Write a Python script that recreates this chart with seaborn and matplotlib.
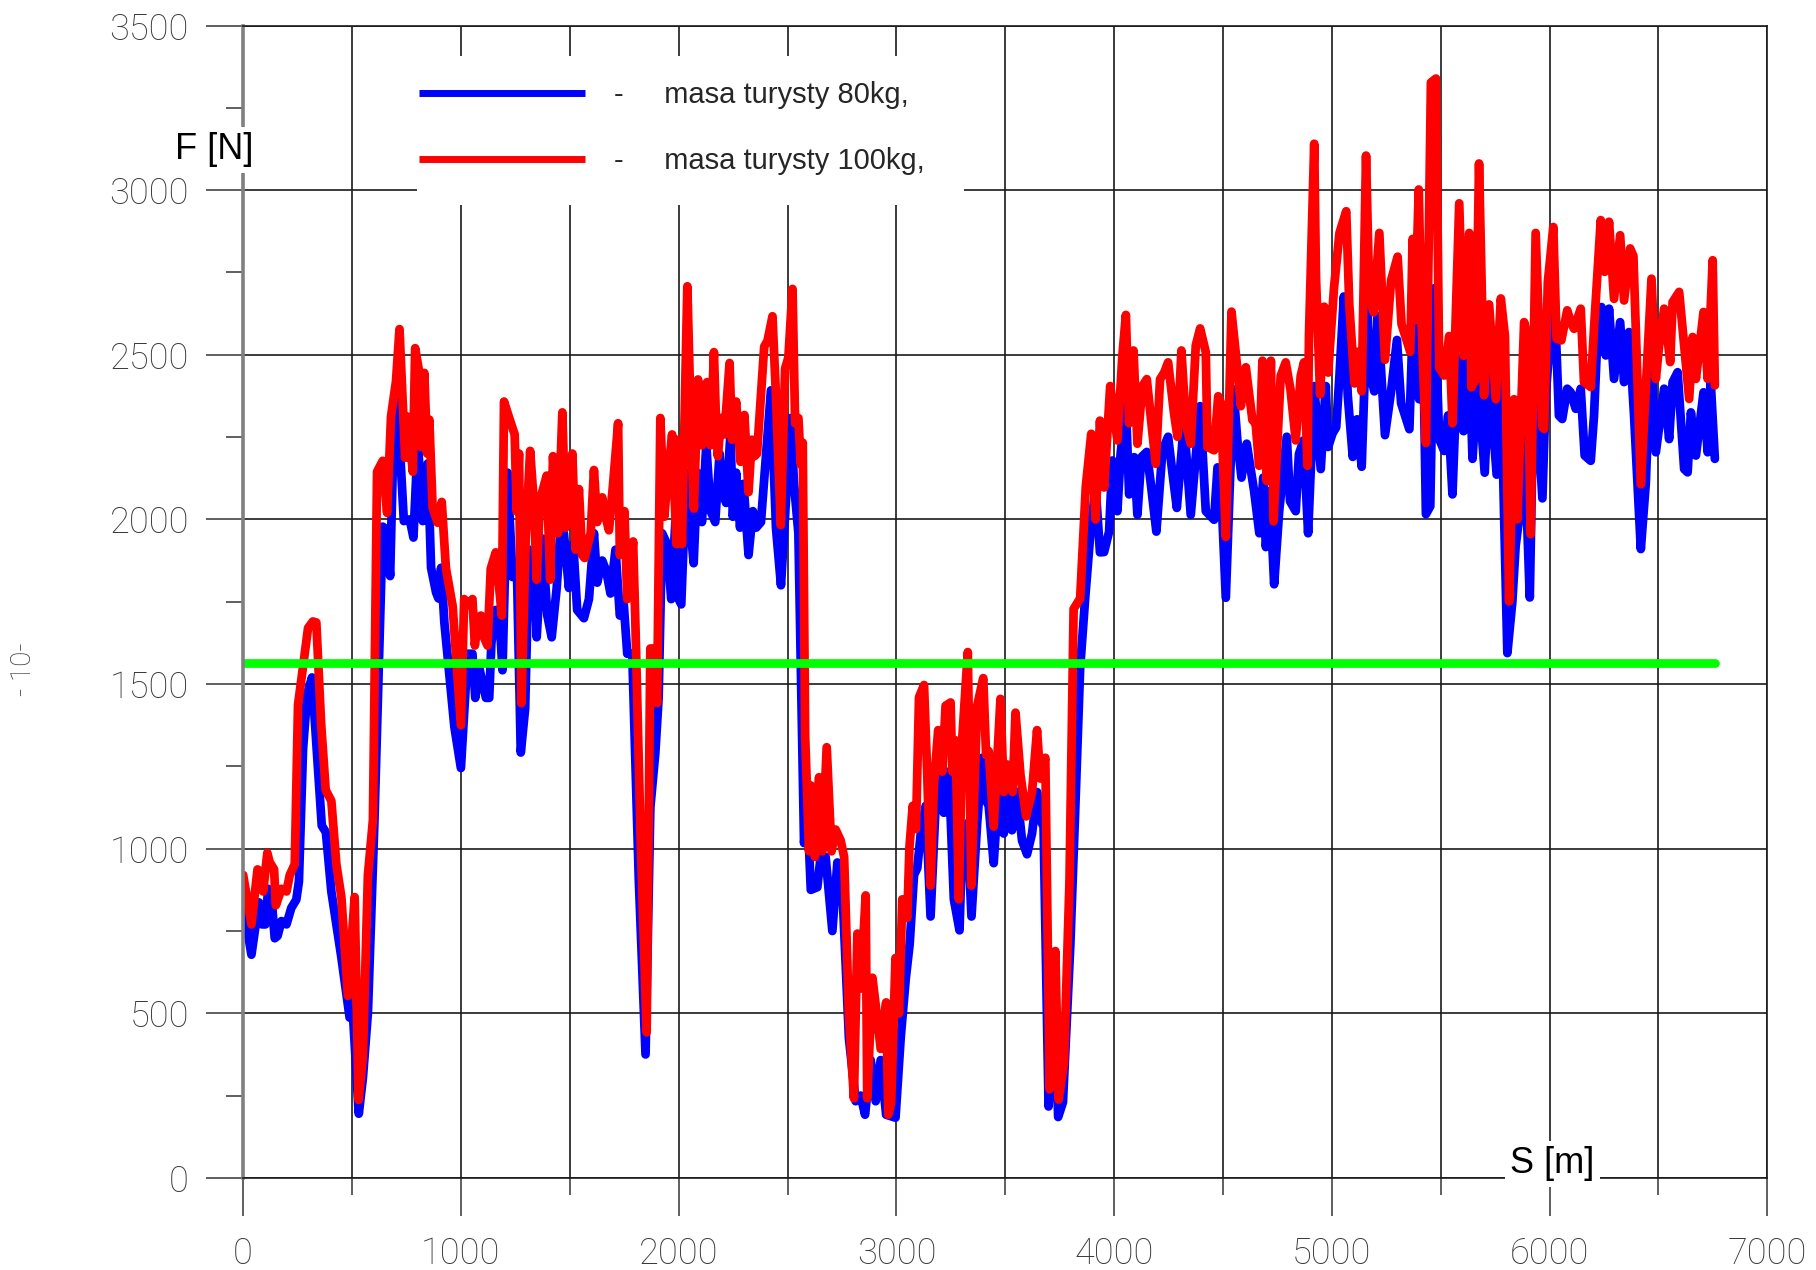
import matplotlib
matplotlib.use("Agg")
import matplotlib.pyplot as plt
import seaborn as sns
import pandas as pd
from matplotlib.ticker import MultipleLocator
from matplotlib.patches import Rectangle

# ---------------- data ----------------
s_80 = [0, 38, 72, 87, 102, 115, 128, 145, 158, 176, 199, 221, 244, 256, 275, 294, 316, 361, 380, 405,
        451, 489, 505, 531, 550, 573, 603, 641, 656, 675, 695, 710, 738, 765, 782, 802, 825, 848, 863, 886,
        897, 909, 924, 970, 1000,
        1031, 1053, 1066, 1084, 1115, 1130, 1140, 1160, 1175, 1191, 1214, 1237, 1257, 1275, 1295, 1313, 1336, 1348, 1374, 1397,
        1417, 1440, 1458, 1473, 1496, 1516, 1534, 1565, 1588, 1611, 1626, 1649, 1668, 1687, 1710, 1730, 1748, 1764, 1787, 1817,
        1848, 1870, 1893, 1908, 1924, 1947, 1966, 1985, 2000, 2012,
        2035, 2050, 2069, 2086, 2107, 2127, 2147, 2168, 2188, 2195, 2218, 2238, 2249, 2264, 2282, 2298, 2321, 2341, 2356, 2378,
        2424, 2447, 2470, 2492, 2515, 2530, 2550, 2576, 2591, 2607, 2637, 2652, 2675, 2706, 2729, 2752, 2782, 2813, 2836, 2856,
        2882, 2905, 2928, 2953, 2996,
        3020, 3043, 3061, 3081, 3096, 3112, 3135, 3157, 3180, 3203, 3218, 3241, 3264, 3290, 3302, 3325, 3345, 3371, 3394, 3409,
        3424, 3447, 3470, 3493, 3508, 3531, 3554, 3577, 3600, 3623, 3646, 3661, 3676, 3699, 3728, 3743, 3765, 3799, 3822, 3844,
        3867,
        3890, 3915, 3935, 3954, 3977, 3992, 4015, 4030, 4054, 4069, 4092, 4107, 4125, 4150, 4170, 4194, 4222, 4248, 4268, 4288,
        4321, 4352, 4375, 4395, 4421, 4459, 4475, 4490, 4513, 4532, 4548, 4566, 4585, 4609, 4643, 4667, 4685, 4697, 4715, 4735,
        4758, 4793, 4808, 4834, 4849, 4870, 4891, 4919, 4949, 4972, 4983, 5003,
        5020, 5035, 5055, 5073, 5096, 5116, 5137, 5162, 5178, 5195, 5211, 5244, 5272, 5299, 5318, 5356, 5368, 5386, 5401, 5417,
        5432, 5452, 5470, 5493, 5516, 5534, 5554, 5577, 5605, 5625, 5646, 5669, 5702, 5722, 5757, 5776, 5806, 5829, 5844, 5867,
        5883, 5909, 5929, 5967, 5982, 6012, 6028,
        6043, 6058, 6081, 6097, 6120, 6143, 6161, 6189, 6204, 6220, 6238, 6258, 6273, 6296, 6324, 6342, 6365, 6388, 6419, 6442,
        6465, 6488, 6526, 6549, 6565, 6588, 6618, 6634, 6649, 6672, 6707, 6726, 6740, 6759]
f_80 = [828, 678, 837, 770, 770, 878, 870, 728, 735, 780, 770, 820, 845, 900, 1303, 1470, 1520, 1070, 1050, 870,
        670, 487, 487, 195, 305, 503, 1087, 1978, 1970, 1828, 2370, 2337, 1995, 2000, 1945, 2237, 1995, 2170, 1853, 1778,
        1760, 1853, 1687, 1370, 1245,
        1592, 1592, 1458, 1550, 1458, 1458, 1625, 1725, 1725, 1542, 2142, 1825, 1858, 1292, 1425, 1908, 1892, 1642, 1942, 1708,
        1642, 1792, 1975, 1958, 1792, 1925, 1725, 1700, 1758, 1958, 1808, 1875, 1842, 1775, 1908, 1708, 1742, 1592, 1592, 908,
        375, 1125, 1292, 1458, 1958, 1925, 1758, 1992, 1758, 1742,
        2142, 2008, 1867, 2142, 1992, 2225, 2025, 1992, 2200, 2108, 2050, 2258, 2008, 2142, 1975, 2108, 1892, 2025, 1975, 1992,
        2392, 1975, 1800, 2050, 2308, 2108, 1958, 1017, 1125, 875, 883, 975, 975, 750, 958, 875, 425, 233, 250, 192,
        358, 233, 358, 192, 183,
        427, 605, 710, 920, 941, 1046, 1130, 794, 1130, 1234, 1109, 1234, 846, 752, 1025, 1077, 794, 1077, 1276, 1151,
        1130, 956, 1193, 1046, 1172, 1056, 1172, 1025, 983, 1046, 1172, 1088, 1067, 217, 540, 185, 230, 710, 1130, 1549,
        1760,
        1950, 2100, 1900, 1901, 1963, 2179, 2025, 2200, 2344, 2076, 2189, 2014, 2189, 2205, 2100, 1963, 2210, 2251, 2140, 2035,
        2292, 2014, 2189, 2344, 2025, 1999, 2158, 2117, 1762, 2117, 2395, 2240, 2127, 2230, 2086, 1958, 2127, 1916, 2086, 1803,
        2025, 2251, 2055, 2025, 2199, 2240, 1958, 2405, 2153, 2405, 2220, 2261,
        2280, 2437, 2677, 2377, 2190, 2304, 2160, 2653, 2437, 2389, 2617, 2256, 2389, 2545, 2353, 2274, 2520, 2774, 2365, 2629,
        2016, 2040, 2702, 2244, 2208, 2316, 2076, 2485, 2268, 2629, 2184, 2437, 2142, 2437, 2136, 2437, 1594, 1751, 1919, 2040,
        2256, 1763, 2485, 2064, 2377, 2630, 2579,
        2315, 2305, 2397, 2386, 2336, 2397, 2194, 2178, 2315, 2560, 2645, 2498, 2640, 2427, 2599, 2417, 2569, 2315, 1910, 2112,
        2518, 2204, 2397, 2244, 2417, 2447, 2153, 2143, 2325, 2194, 2386, 2204, 2417, 2184]

s_100 = [0, 38, 66, 80, 92, 111, 121, 142, 150, 176, 199, 214, 237, 252, 275, 298, 320, 336, 358, 379,
         405, 428, 451, 481, 512, 530, 550, 573, 596, 615, 641, 661, 679, 702, 718, 744, 756, 779, 790, 809,
         818, 832, 845, 855, 870, 893, 912, 931, 962, 1000,
         1015, 1030, 1053, 1064, 1080, 1092, 1107, 1122, 1137, 1160, 1188, 1198, 1222, 1247, 1256, 1267, 1278, 1298, 1318, 1336,
         1348, 1363, 1394, 1410, 1423, 1446, 1466, 1481, 1496, 1512, 1527, 1542, 1557, 1568, 1596, 1611, 1626, 1649, 1664, 1680,
         1699, 1722, 1730, 1751, 1764, 1791, 1802, 1825, 1853, 1870, 1885, 1901, 1916, 1934, 1947, 1970, 1990,
         2000, 2015, 2040, 2058, 2070, 2089, 2107, 2131, 2147, 2162, 2172, 2180, 2195, 2210, 2234, 2245, 2264, 2284, 2302, 2321,
         2336, 2348, 2360, 2393, 2408, 2431, 2447, 2469, 2489, 2504, 2523, 2535, 2550, 2561, 2570, 2581, 2599, 2607, 2626, 2645,
         2660, 2680, 2702, 2721, 2744, 2760, 2782, 2805, 2821, 2836, 2859, 2866, 2890, 2905, 2928, 2953, 2963, 2976, 2996,
         3012, 3027, 3050, 3060, 3075, 3090, 3104, 3127, 3142, 3157, 3172, 3192, 3211, 3226, 3249, 3257, 3272, 3287, 3302, 3328,
         3344, 3371, 3399, 3412, 3424, 3447, 3478, 3493, 3508, 3534, 3547, 3570, 3596, 3623, 3646, 3661, 3684, 3704, 3730, 3745,
         3770, 3795, 3814, 3844, 3870,
         3895, 3915, 3935, 3954, 3982, 4015, 4038, 4054, 4069, 4089, 4107, 4130, 4150, 4191, 4211, 4230, 4248, 4275, 4291, 4309,
         4330, 4352, 4375, 4395, 4421, 4429, 4459, 4478, 4490, 4513, 4539, 4563, 4582, 4605, 4635, 4650, 4666, 4681, 4701, 4720,
         4732, 4765, 4788, 4810, 4834, 4857, 4872, 4888, 4895, 4919, 4927, 4946, 4965, 4983, 5010,
         5035, 5066, 5080, 5104, 5120, 5137, 5157, 5172, 5192, 5218, 5244, 5272, 5302, 5320, 5360, 5371, 5382, 5399, 5412, 5432,
         5455, 5478, 5493, 5516, 5539, 5554, 5585, 5605, 5631, 5641, 5660, 5676, 5699, 5722, 5753, 5776, 5795, 5814, 5837, 5852,
         5883, 5898, 5913, 5936, 5967, 5975,
         5992, 6017, 6032, 6054, 6081, 6097, 6112, 6143, 6158, 6189, 6204, 6235, 6253, 6273, 6296, 6324, 6342, 6370, 6385, 6419,
         6442, 6468, 6488, 6503, 6526, 6554, 6565, 6595, 6618, 6641, 6657, 6672, 6707, 6726, 6749, 6759]
f_100 = [920, 770, 937, 930, 870, 987, 960, 937, 828, 878, 870, 920, 953, 1437, 1553, 1670, 1690, 1687, 1380, 1178,
         1145, 953, 853, 553, 853, 237, 370, 920, 1087, 2145, 2178, 2020, 2312, 2420, 2578, 2187, 2312, 2145, 2520, 2445,
         2220, 2445, 2200, 2303, 2037, 1990, 2053, 1853, 1737, 1375,
         1758, 1740, 1758, 1617, 1700, 1708, 1640, 1617, 1850, 1900, 1708, 2358, 2308, 2258, 2025, 2200, 1442, 1950, 2208, 2042,
         1817, 2058, 2133, 1817, 2192, 1958, 2325, 1975, 2025, 2200, 1908, 2092, 1892, 1883, 1958, 2150, 1992, 2067, 2008, 1967,
         2108, 2292, 1892, 2025, 1758, 1933, 1667, 1042, 442, 1608, 1608, 1442, 2308, 2008, 2108, 2258, 1925,
         2242, 1925, 2708, 2242, 2033, 2425, 2225, 2417, 2225, 2508, 2292, 2192, 2308, 2258, 2475, 2242, 2358, 2175, 2317, 2083,
         2242, 2192, 2200, 2525, 2542, 2617, 2375, 1983, 2458, 2492, 2700, 2292, 2308, 2167, 2233, 1342, 992, 1192, 975, 1217,
         992, 1308, 992, 1058, 1025, 975, 492, 242, 742, 575, 858, 242, 608, 525, 392, 533, 192, 227, 668,
         500, 846, 790, 1004, 1130, 1060, 1460, 1497, 1220, 888, 1190, 1360, 1234, 1434, 1444, 1234, 1329, 846, 1329, 1597,
         888, 1434, 1518, 1285, 1296, 1067, 1455, 1172, 1256, 1172, 1413, 1224, 1098, 1172, 1360, 1213, 1276, 269, 689, 238,
         350, 900, 1728, 1760, 2100,
         2260, 2000, 2300, 2097, 2405, 2240, 2498, 2621, 2292, 2513, 2230, 2405, 2426, 2169, 2426, 2446, 2477, 2323, 2251, 2513,
         2287, 2230, 2528, 2580, 2508, 2220, 2210, 2374, 2354, 1947, 2631, 2477, 2344, 2462, 2302, 2292, 2163, 2482, 2117, 2482,
         1994, 2436, 2477, 2395, 2240, 2436, 2477, 2163, 2560, 3141, 2738, 2380, 2646, 2446, 2704,
         2870, 2936, 2653, 2413, 2509, 2389, 3105, 2678, 2629, 2870, 2485, 2726, 2798, 2593, 2509, 2852, 2605, 3002, 2593, 2232,
         3327, 3339, 2461, 2437, 2557, 2292, 2960, 2497, 2870, 2401, 2425, 3081, 2377, 2653, 2365, 2671, 2557, 1751, 2365, 2000,
         2599, 2557, 1955, 2870, 2280, 2275,
         2721, 2888, 2549, 2544, 2635, 2600, 2579, 2640, 2417, 2402, 2580, 2909, 2752, 2904, 2670, 2863, 2665, 2823, 2800, 2107,
         2400, 2731, 2427, 2528, 2640, 2478, 2660, 2691, 2528, 2366, 2554, 2427, 2630, 2427, 2787, 2407]

limit_s = [0, 6760]
limit_f = [1565, 1565]

label_80 = "-     masa turysty 80kg,"
label_100 = "-     masa turysty 100kg,"

# ---------------- style ----------------
sns.set_style("white")
plt.rcParams["font.family"] = ["Roboto", "DejaVu Sans"]
plt.rcParams["font.weight"] = "light"
TXT = ["Liberation Sans", "DejaVu Sans"]

fig = plt.figure(figsize=(18.16, 12.7), dpi=100)
ax = fig.add_axes([0.1339, 0.0725, 0.8393, 0.9074])

line_kw = dict(solid_capstyle="round", solid_joinstyle="round")
sns.lineplot(x=s_80, y=f_80, ax=ax, color="#0000ff", linewidth=6.3, estimator=None,
             sort=False, label=label_80, zorder=2, **line_kw)
sns.lineplot(x=s_100, y=f_100, ax=ax, color="#ff0000", linewidth=6.3, estimator=None,
             sort=False, label=label_100, zorder=2.1, **line_kw)
sns.lineplot(x=limit_s, y=limit_f, ax=ax, color="#00ff00", linewidth=6.3, estimator=None,
             sort=False, legend=False, zorder=2.2, **line_kw)

ax.set_xlim(0, 7000)
ax.set_ylim(0, 3500)
ax.xaxis.set_major_locator(MultipleLocator(1000))
ax.xaxis.set_minor_locator(MultipleLocator(500))
ax.yaxis.set_major_locator(MultipleLocator(500))
ax.yaxis.set_minor_locator(MultipleLocator(250))
ax.set_axisbelow(True)
ax.grid(True, which="both", axis="x", color="#1a1a1a", linewidth=1.2)
ax.grid(True, which="major", axis="y", color="#1a1a1a", linewidth=1.2)

ax.tick_params(axis="both", which="major", length=27, width=1.2, color="#444444",
               labelsize=26, labelcolor="#383838", pad=12, direction="out")
ax.tick_params(axis="x", which="major", pad=15)
ax.tick_params(axis="both", which="minor", length=12, width=1.2, color="#444444", direction="out")
ax.tick_params(axis="x", which="both", bottom=True)
ax.tick_params(axis="y", which="both", left=True)
ax.set_xlabel("")
ax.set_ylabel("")

for side in ["top", "right", "bottom"]:
    ax.spines[side].set_color("#1a1a1a")
    ax.spines[side].set_linewidth(1.2)
ax.spines["left"].set_color("#808080")
ax.spines["left"].set_linewidth(2.6)

# legend backdrop
ax.add_patch(Rectangle((0.114, 0.8442), 0.359, 0.1293, transform=ax.transAxes,
                       facecolor="white", edgecolor="none", zorder=3))
leg = ax.legend(loc="upper left", bbox_to_anchor=(0.1153, 0.952), frameon=False,
                prop=dict(family=TXT, size=21, weight="normal"),
                handlelength=5.7, handletextpad=1.0, labelspacing=1.32,
                borderpad=0, borderaxespad=0)
leg.set_zorder(4)
for ln in leg.get_lines():
    ln.set_linewidth(5)
    ln.set_solid_capstyle("butt")

ax.text(-134, 3094, "F [N]", ha="center", va="baseline", fontsize=26, family=TXT,
        fontweight="normal", color="black", zorder=6, clip_on=False,
        bbox=dict(facecolor="white", edgecolor="none", pad=4))
ax.text(6012, 14, "S [m]", ha="center", va="baseline", fontsize=26, family=TXT,
        fontweight="normal", color="black", zorder=6, clip_on=False,
        bbox=dict(facecolor="white", edgecolor="none", pad=4))

fig.text(0.0127, 0.473, "- 10-", rotation=90, ha="center", va="center",
         fontsize=20, color="#333333")

fig.savefig("out.png", dpi=100)
